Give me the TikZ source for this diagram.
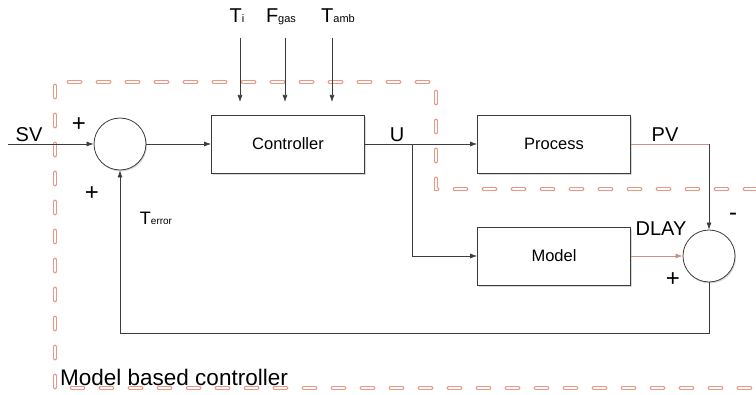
\documentclass[tikz,border=0pt]{standalone}
\usepackage{fontspec}
\setmainfont{Liberation Sans}
\usetikzlibrary{arrows.meta,shadows,calc}

\definecolor{frameline}{RGB}{236,150,132}
\definecolor{wire}{RGB}{60,60,60}
\definecolor{tintwire}{RGB}{205,145,135}

% big letter followed by a small tail, as in T_i
\newcommand{\bigsmall}[2]{{\fontsize{20}{20}\selectfont #1}{\fontsize{11}{11}\selectfont #2}}

\tikzset{
  block/.style={draw=wire, fill=white, line width=0.8pt, minimum width=153pt,
    minimum height=58pt, inner sep=0pt, font=\fontsize{16.5}{18}\selectfont,
    drop shadow={opacity=0.3, shadow xshift=1.5pt, shadow yshift=-2pt}},
  sumnode/.style={circle, draw=wire, fill=white, line width=0.8pt,
    minimum size=52pt, inner sep=0pt,
    drop shadow={opacity=0.3, shadow xshift=1pt, shadow yshift=-1.5pt}},
  link/.style={draw=wire, line width=0.7pt},
  sig/.style={link, -{Latex[length=7pt,width=5pt]}},
  lbl/.style={font=\fontsize{20}{20}\selectfont, inner sep=0pt},
  sign/.style={font=\fontsize{24}{24}\selectfont, inner sep=0pt},
  frame/.style={draw=frameline, line width=1.2pt, double=white, double distance=2.4pt,
    line cap=round, dash pattern=on 11pt off 18pt}
}

\begin{document}
\begin{tikzpicture}[x=1pt, y=-1pt]
  \useasboundingbox (0,0) rectangle (756,395);

  % boundary of the model based controller
  \draw[frame] (756,189) -- (436,189) -- (436,82) -- (55,82) -- (55,388) -- (756,388);
  \node[lbl, anchor=base west, font=\fontsize{22.5}{24}\selectfont] (mbc) at (60,386) {Model based controller};

  % blocks and summing points
  \node[sumnode] (sum1) at (120,144) {};
  \node[block] (ctrl) at (288,144) {Controller};
  \node[block] (proc) at (554,144) {Process};
  \node[block] (model) at (554,256) {Model};
  \node[sumnode] (sum2) at (709,256) {};

  % disturbance inputs
  \node[lbl, anchor=base] (ti) at (237,23) {\bigsmall{T}{i}};
  \node[lbl, anchor=base] (fgas) at (281,23) {\bigsmall{F}{gas}};
  \node[lbl, anchor=base] (tamb) at (338,23) {\bigsmall{T}{amb}};
  \coordinate (ti-end) at (240,102);
  \coordinate (fgas-end) at (285,102);
  \coordinate (tamb-end) at (332,102);
  \draw[sig] (ti-end |- 0,38) -- (ti-end);
  \draw[sig] (fgas-end |- 0,38) -- (fgas-end);
  \draw[sig] (tamb-end |- 0,38) -- (tamb-end);

  % labels
  \node[lbl, anchor=base] (sv) at (29,142) {SV};
  \node[lbl, anchor=base] (u) at (397,142) {U};
  \node[lbl, anchor=base] (pv) at (665,142) {PV};
  \node[lbl, anchor=base] (dlay) at (661,236) {DLAY};
  \node[lbl] (terr) at (156,218) {{\fontsize{18}{18}\selectfont T}{\fontsize{10}{10}\selectfont error}};
  \node[sign] (p1) at (79,125) {+};
  \node[sign] (p2) at (92,194) {+};
  \node[sign] (m3) at (733,217) {-};
  \node[sign] (p4) at (673,280) {+};

  % signal flow
  \coordinate (sv-in) at (8,144);
  \coordinate (branch) at (412,144);
  \coordinate (fb) at (0,333);
  \draw[sig] (sv-in) -- (sum1.west);
  \draw[sig] (sum1.east) -- (ctrl.west);
  \draw[sig] (ctrl.east) -- (proc.west);
  \draw[sig] (branch) |- (model.west);
  \draw[link, draw=tintwire] (proc.east) -- (proc.east -| sum2.north);
  \draw[sig] (proc.east -| sum2.north) -- (sum2.north);
  \draw[sig, draw=tintwire] (model.east) -- (sum2.west);
  \draw[sig] (sum2.south) |- (sum1.south |- fb) -- (sum1.south);
\end{tikzpicture}
\end{document}
